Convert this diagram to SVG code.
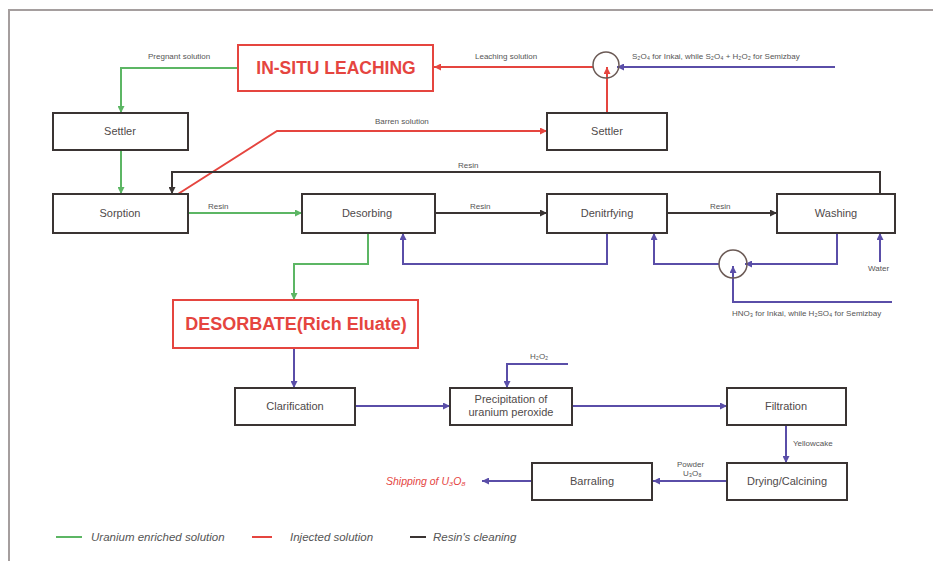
<svg xmlns="http://www.w3.org/2000/svg" width="933" height="561" viewBox="0 0 933 561">
  <style>
    .frame { fill: none; stroke: #a59e9e; stroke-width: 2; }
    .box { fill: #ffffff; stroke: #3a3433; stroke-width: 2; }
    .rbox { fill: #ffffff; stroke: #e5453f; stroke-width: 2; }
    .lbl { font-family: "Liberation Sans", Arial, sans-serif; font-size: 11px; fill: #4f4a4a; text-anchor: middle; }
    .big { font-family: "Liberation Sans", Arial, sans-serif; font-weight: bold; fill: #e5453f; text-anchor: middle; }
    .small { font-family: "Liberation Sans", Arial, sans-serif; font-size: 8px; fill: #555; }
    .legend { font-family: "Liberation Sans", Arial, sans-serif; font-size: 11.5px; font-style: italic; fill: #555; }
    .g { fill: none; stroke: #5cb664; stroke-width: 2; }
    .r { fill: none; stroke: #e5453f; stroke-width: 2; }
    .b { fill: none; stroke: #5a4ea8; stroke-width: 2; }
    .k { fill: none; stroke: #3a3433; stroke-width: 2; }
    .valve { fill: none; stroke: #6b5a55; stroke-width: 1.5; }
  </style>
  <defs>
    <marker id="ag" viewBox="0 0 10 10" refX="10" refY="5" markerWidth="9" markerHeight="7" orient="auto" markerUnits="userSpaceOnUse">
      <path d="M0,0 L10,5 L0,10 z" fill="#5cb664"/>
    </marker>
    <marker id="ar" viewBox="0 0 10 10" refX="10" refY="5" markerWidth="9" markerHeight="7" orient="auto" markerUnits="userSpaceOnUse">
      <path d="M0,0 L10,5 L0,10 z" fill="#e5453f"/>
    </marker>
    <marker id="ab" viewBox="0 0 10 10" refX="10" refY="5" markerWidth="9" markerHeight="7" orient="auto" markerUnits="userSpaceOnUse">
      <path d="M0,0 L10,5 L0,10 z" fill="#5a4ea8"/>
    </marker>
    <marker id="ak" viewBox="0 0 10 10" refX="10" refY="5" markerWidth="9" markerHeight="7" orient="auto" markerUnits="userSpaceOnUse">
      <path d="M0,0 L10,5 L0,10 z" fill="#3a3433"/>
    </marker>
  </defs>

  <rect width="933" height="561" fill="#ffffff"/>
  <path class="frame" d="M9,561 L9,10 L933,10"/>

  <!-- connectors -->
  <g id="connectors">
    <!-- uranium enriched solution (green) -->
    <path class="g" d="M238,68 L121,68 L121,113" marker-end="url(#ag)"/>
    <path class="g" d="M121,150 L121,194" marker-end="url(#ag)"/>
    <path class="g" d="M188,213 L302,213" marker-end="url(#ag)"/>
    <path class="g" d="M368,233 L368,264 L294,264 L294,300" marker-end="url(#ag)"/>

    <!-- injected solution (red) -->
    <path class="r" d="M178,194 L277,131 L547,131" marker-end="url(#ar)"/>
    <path class="r" d="M607,113 L607,67" marker-end="url(#ar)"/>
    <path class="r" d="M593,67 L434,67" marker-end="url(#ar)"/>

    <!-- resin's cleaning (black) -->
    <path class="k" d="M435,213 L547,213" marker-end="url(#ak)"/>
    <path class="k" d="M667,213 L777,213" marker-end="url(#ak)"/>
    <path class="k" d="M880,194 L880,172 L172,172 L172,194" marker-end="url(#ak)"/>

    <!-- reagents and product flow (blue) -->
    <path class="b" d="M835,67 L617,67" marker-end="url(#ab)"/>
    <path class="b" d="M607,233 L607,264 L403,264 L403,233" marker-end="url(#ab)"/>
    <path class="b" d="M837,233 L837,264 L745,264" marker-end="url(#ab)"/>
    <path class="b" d="M719,264 L654,264 L654,233" marker-end="url(#ab)"/>
    <path class="b" d="M892,302 L733,302 L733,266" marker-end="url(#ab)"/>
    <path class="b" d="M880,262 L880,233" marker-end="url(#ab)"/>
    <path class="b" d="M294,348 L294,388" marker-end="url(#ab)"/>
    <path class="b" d="M355,406 L450,406" marker-end="url(#ab)"/>
    <path class="b" d="M568,364 L507,364 L507,388" marker-end="url(#ab)"/>
    <path class="b" d="M572,406 L727,406" marker-end="url(#ab)"/>
    <path class="b" d="M786,425 L786,463" marker-end="url(#ab)"/>
    <path class="b" d="M727,481 L653,481" marker-end="url(#ab)"/>
    <path class="b" d="M532,481 L482,481" marker-end="url(#ab)"/>
  </g>

  <!-- mixing valves -->
  <g id="valve-top">
    <circle class="valve" cx="606" cy="65" r="13"/>
  </g>
  <g id="valve-bottom">
    <circle class="valve" cx="733" cy="264" r="14"/>
  </g>

  <!-- connector labels -->
  <g id="labels">
    <text class="small" x="148" y="59">Pregnant solution</text>
    <text class="small" x="475" y="59">Leaching solution</text>
    <text class="small" x="632" y="59">S₂O₄ for Inkai, while S₂O₄ + H₂O₂ for Semizbay</text>
    <text class="small" x="375" y="124">Barren solution</text>
    <text class="small" x="458" y="168">Resin</text>
    <text class="small" x="208" y="209">Resin</text>
    <text class="small" x="470" y="209">Resin</text>
    <text class="small" x="710" y="209">Resin</text>
    <text class="small" x="868" y="271">Water</text>
    <text class="small" x="732" y="316">HNO₃ for Inkai, while H₂SO₄ for Semizbay</text>
    <text class="small" x="530" y="359">H₂O₂</text>
    <text class="small" x="793" y="446">Yellowcake</text>
    <text class="small" x="677" y="467">Powder</text>
    <text class="small" x="683" y="476">U₃O₈</text>
    <text x="386" y="485" style="font-family:'Liberation Sans', Arial, sans-serif;font-size:10.5px;font-style:italic;fill:#e5453f">Shipping of U₃O₈</text>
  </g>

  <!-- process nodes -->
  <g id="in-situ-leaching">
    <rect class="rbox" x="238" y="45" width="195" height="46"/>
    <text class="big" x="336" y="74" font-size="17.5">IN-SITU LEACHING</text>
  </g>
  <g id="settler-1">
    <rect class="box" x="53" y="113" width="135" height="37"/>
    <text class="lbl" x="120" y="135">Settler</text>
  </g>
  <g id="settler-2">
    <rect class="box" x="547" y="113" width="120" height="37"/>
    <text class="lbl" x="607" y="135">Settler</text>
  </g>
  <g id="sorption">
    <rect class="box" x="53" y="194" width="135" height="39"/>
    <text class="lbl" x="120" y="217">Sorption</text>
  </g>
  <g id="desorbing">
    <rect class="box" x="302" y="194" width="133" height="39"/>
    <text class="lbl" x="367" y="217">Desorbing</text>
  </g>
  <g id="denitrifying">
    <rect class="box" x="547" y="194" width="120" height="39"/>
    <text class="lbl" x="607" y="217">Denitrfying</text>
  </g>
  <g id="washing">
    <rect class="box" x="777" y="194" width="118" height="39"/>
    <text class="lbl" x="836" y="217">Washing</text>
  </g>
  <g id="desorbate">
    <rect class="rbox" x="173" y="300" width="245" height="48"/>
    <text class="big" x="296" y="330" font-size="18">DESORBATE(Rich Eluate)</text>
  </g>
  <g id="clarification">
    <rect class="box" x="235" y="388" width="120" height="37"/>
    <text class="lbl" x="295" y="410">Clarification</text>
  </g>
  <g id="precipitation">
    <rect class="box" x="450" y="388" width="122" height="37"/>
    <text class="lbl" x="511" y="403">Precipitation of</text>
    <text class="lbl" x="511" y="416">uranium peroxide</text>
  </g>
  <g id="filtration">
    <rect class="box" x="727" y="388" width="119" height="37"/>
    <text class="lbl" x="786" y="410">Filtration</text>
  </g>
  <g id="drying-calcining">
    <rect class="box" x="727" y="463" width="120" height="37"/>
    <text class="lbl" x="787" y="485">Drying/Calcining</text>
  </g>
  <g id="barraling">
    <rect class="box" x="532" y="463" width="120" height="37"/>
    <text class="lbl" x="592" y="485">Barraling</text>
  </g>

  <!-- legend -->
  <g id="legend">
    <line x1="56" y1="537" x2="82" y2="537" stroke="#5cb664" stroke-width="2"/>
    <text class="legend" x="91" y="541">Uranium enriched solution</text>
    <line x1="252" y1="537" x2="272" y2="537" stroke="#e5453f" stroke-width="2"/>
    <text class="legend" x="290" y="541">Injected solution</text>
    <line x1="410" y1="537" x2="426" y2="537" stroke="#3a3433" stroke-width="2"/>
    <text class="legend" x="433" y="541">Resin's cleaning</text>
  </g>
</svg>
